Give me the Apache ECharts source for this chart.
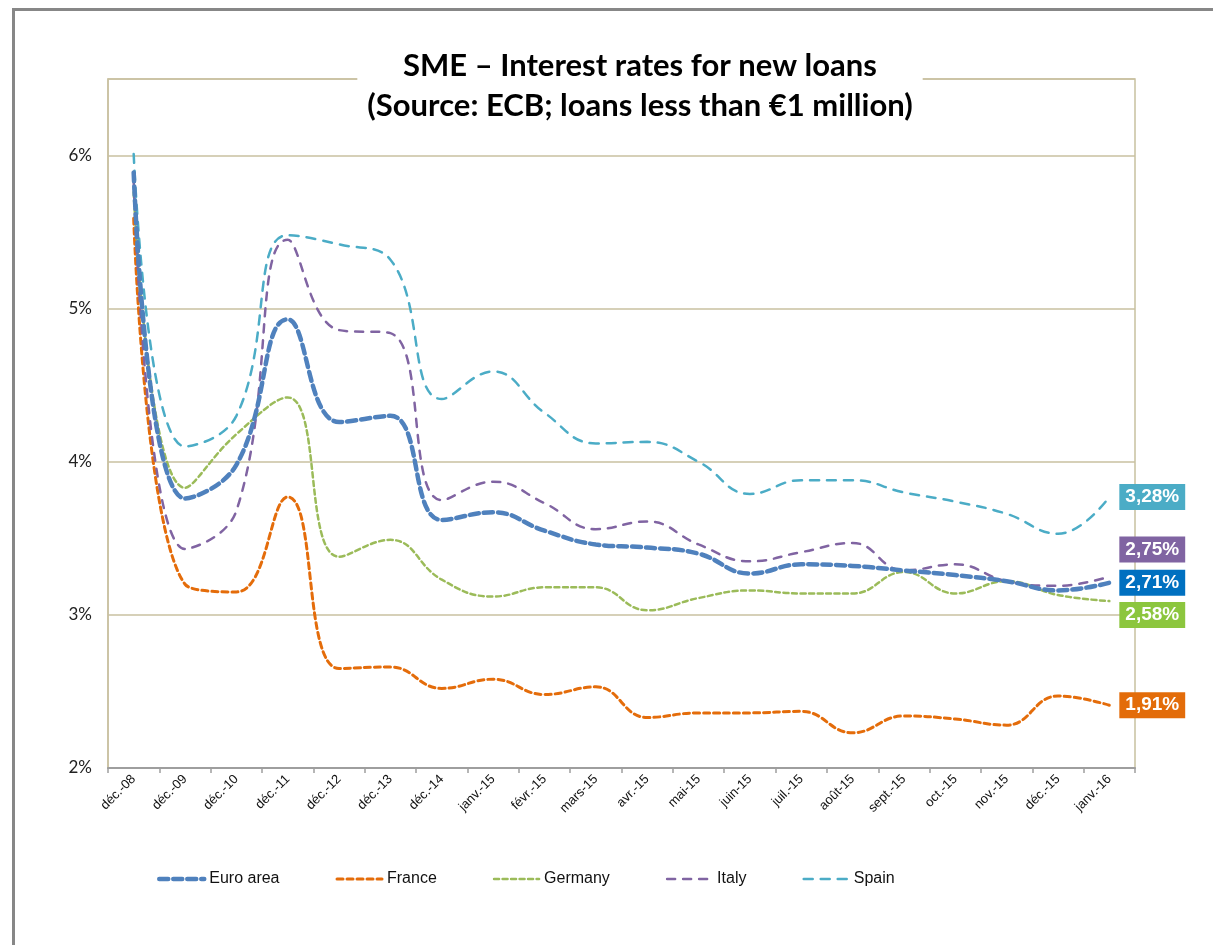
<!DOCTYPE html>
<html>
<head>
<meta charset="utf-8">
<title>SME – Interest rates for new loans</title>
<script src="https://cdn.jsdelivr.net/npm/echarts@6/dist/echarts.min.js"></script>
<style>
  html, body { margin: 0; padding: 0; background: #fff; }
  #chart { width: 1213px; height: 945px; }
</style>
</head>
<body>
<div id="chart"></div>
<script>
const categories = ['déc.-08', 'déc.-09', 'déc.-10', 'déc.-11', 'déc.-12', 'déc.-13', 'déc.-14',
  'janv.-15', 'févr.-15', 'mars-15', 'avr.-15', 'mai-15', 'juin-15', 'juil.-15', 'août-15',
  'sept.-15', 'oct.-15', 'nov.-15', 'déc.-15', 'janv.-16']

const euroArea = [5.89, 3.76, 3.98, 4.93, 4.26, 4.30, 3.62, 3.67, 3.55, 3.46, 3.44, 3.40, 3.27, 3.33, 3.32, 3.29, 3.26, 3.22, 3.16, 3.21]
const france = [5.59, 3.20, 3.15, 3.77, 2.65, 2.66, 2.52, 2.58, 2.48, 2.53, 2.33, 2.36, 2.36, 2.37, 2.23, 2.34, 2.32, 2.28, 2.47, 2.41]
const germany = [5.76, 3.83, 4.18, 4.42, 3.38, 3.49, 3.23, 3.12, 3.18, 3.18, 3.03, 3.11, 3.16, 3.14, 3.14, 3.28, 3.14, 3.22, 3.13, 3.09]
const italy = [5.83, 3.43, 3.68, 5.45, 4.86, 4.84, 3.75, 3.87, 3.73, 3.56, 3.61, 3.46, 3.35, 3.41, 3.47, 3.29, 3.33, 3.22, 3.19, 3.25]
const spain = [6.01, 4.10, 4.30, 5.48, 5.42, 5.32, 4.41, 4.59, 4.32, 4.12, 4.13, 4.00, 3.79, 3.88, 3.88, 3.80, 3.74, 3.66, 3.53, 3.77]

const seriesNames = ['Euro area', 'France', 'Germany', 'Italy', 'Spain']
// last values shown in the boxes at the right
const endLabels = ['2,71%', '1,91%', '2,58%', '2,75%', '3,28%']

const yTicks = [2, 3, 4, 5, 6]

const GRID_COLOR = '#C8C1A0'
const NARROW = "'Liberation Sans Narrow', 'Liberation Sans', Arial, sans-serif"

const styles = [
  { color: '#4F81BD', width: 4.5, dash: [9, 5], box: '#0070C0', dy: 0 },
  { color: '#E46C0A', width: 3, dash: [6, 4], box: '#E36C09', dy: 0 },
  { color: '#9BBB59', width: 2.5, dash: [5, 3.5], box: '#8CC63E', dy: 14 },
  { color: '#8064A2', width: 2.5, dash: [8, 8], box: '#8064A2', dy: -27 },
  { color: '#4BACC6', width: 2.5, dash: [9, 8], box: '#4BACC6', dy: 0 }
]

const seriesData = [euroArea, france, germany, italy, spain]

const chart = echarts.init(document.getElementById('chart'))

const option = {
  animation: false,
  graphic: [
    {
      type: 'rect',
      shape: { x: 13.5, y: 9.5, width: 1260, height: 1000 },
      style: { fill: 'none', stroke: '#878787', lineWidth: 3 },
      silent: true
    }
  ],
  title: {
    text: 'SME – Interest rates for new loans\n(Source: ECB; loans less than €1 million)',
    left: 630,
    top: 44,
    textAlign: 'center',
    backgroundColor: '#fff',
    padding: [2, 10, 6, 10],
    textStyle: {
      fontFamily: 'Lato, sans-serif',
      fontWeight: 'bold',
      fontSize: 31,
      lineHeight: 40,
      color: '#000'
    },
    z: 10
  },
  legend: {
    data: seriesNames,
    left: 152,
    top: 866,
    itemWidth: 45,
    itemHeight: 14,
    itemGap: 56,
    itemStyle: { opacity: 0 },
    lineStyle: { width: 'inherit', type: 'inherit' },
    textStyle: { fontFamily: NARROW, fontSize: 16, color: '#111' }
  },
  grid: {
    left: 108,
    right: 78,
    top: 79,
    bottom: 177,
    show: true,
    borderColor: GRID_COLOR,
    borderWidth: 1.5
  },
  xAxis: {
    type: 'category',
    data: categories,
    boundaryGap: true,
    axisLine: { lineStyle: { color: '#9E9E9E', width: 2 } },
    axisTick: { show: true, length: 5, lineStyle: { color: '#9E9E9E', width: 1.5 } },
    axisLabel: {
      rotate: 45,
      interval: 0,
      margin: 9,
      fontFamily: NARROW,
      fontSize: 13,
      color: '#111'
    },
    splitLine: { show: false }
  },
  yAxis: {
    type: 'value',
    min: 2,
    max: 6.5,
    interval: 1,
    axisLine: { show: true, lineStyle: { color: GRID_COLOR, width: 1.5 } },
    axisTick: { show: false },
    axisLabel: {
      margin: 16,
      fontFamily: 'Lato, sans-serif',
      fontSize: 17,
      color: '#222',
      formatter: v => (yTicks.includes(v) ? v + '%' : '')
    },
    splitLine: { lineStyle: { color: GRID_COLOR, width: 1.5 } }
  },
  series: seriesNames.map((name, i) => ({
    name,
    type: 'line',
    data: seriesData[i],
    smooth: 0.45,
    showSymbol: false,
    symbol: 'none',
    z: i === 0 ? 8 : 3 + i,
    lineStyle: {
      color: styles[i].color,
      width: styles[i].width,
      type: styles[i].dash,
      cap: 'round'
    },
    itemStyle: { color: styles[i].color },
    endLabel: {
      show: true,
      formatter: endLabels[i],
      distance: 10,
      offset: [0, styles[i].dy],
      backgroundColor: styles[i].box,
      color: '#fff',
      fontFamily: "'Liberation Sans', Arial, sans-serif",
      fontWeight: 'bold',
      fontSize: 19,
      padding: [4, 6, 3, 6]
    }
  }))
}

chart.setOption(option)
</script>
</body>
</html>
